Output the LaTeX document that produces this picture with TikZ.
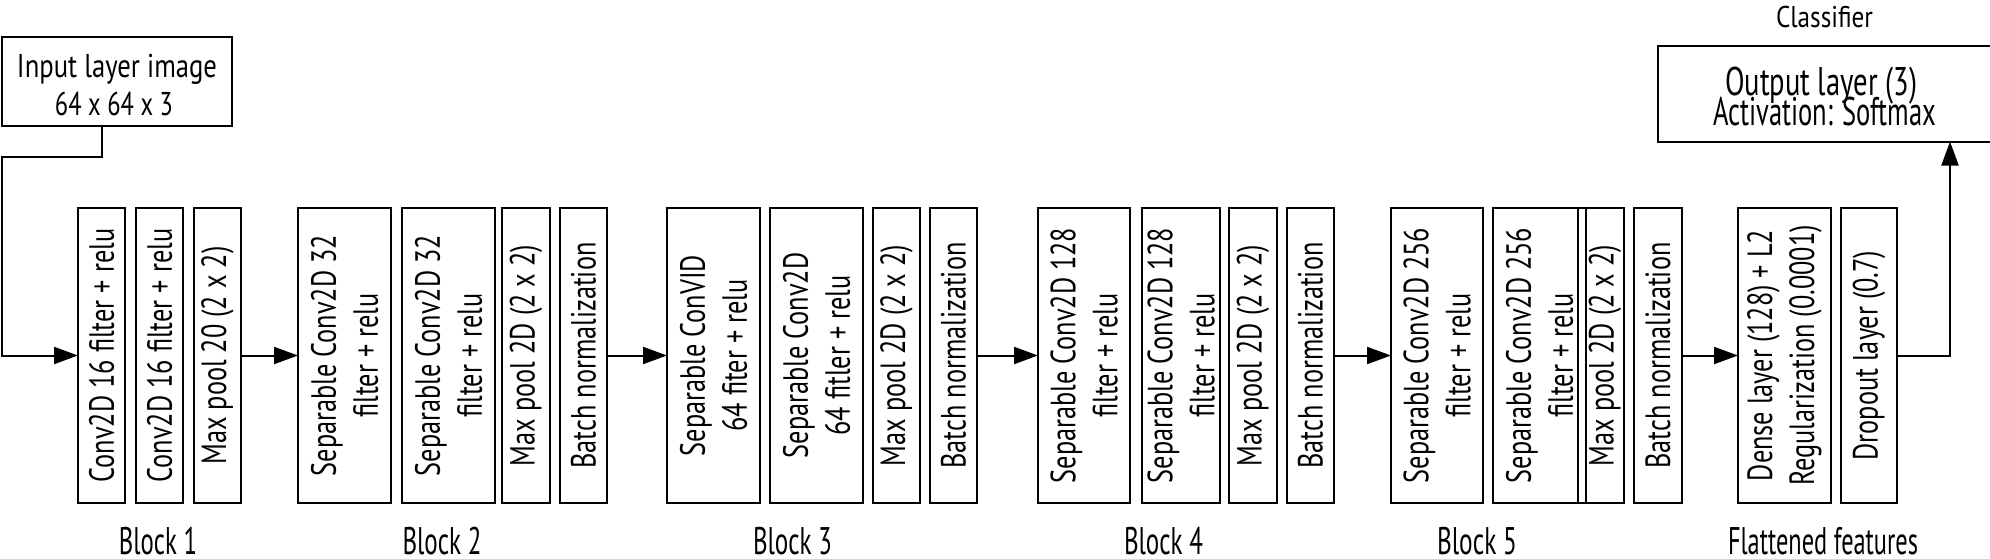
\documentclass[tikz,border=0pt]{standalone}
\usepackage{fontspec}
\usepackage{graphicx}
\newfontfamily\myf{PT Sans}
\usetikzlibrary{arrows.meta}
\newlength\lwa \newlength\lwb \newlength\lwc \newlength\lwe
\newcommand\rotfont{\myf\fontsize{35}{42}\selectfont}
\newcommand\sx[1]{\scalebox{\rf}[1]{#1}}
\newcommand\fw[2]{\resizebox{#1}{\height}{#2}}
\newcommand\rone[1]{\rotatebox{90}{\sx{#1}}}
\newcommand\rtwo[2]{\rotatebox{90}{\vbox{\lineskiplimit=-100pt\relax\halign{\hfil##\hfil\cr\sx{#1}\cr\sx{#2}\cr}}}}
\begin{document}
\lineskiplimit=-100pt\relax
\settowidth\lwa{\rotfont Conv2D 16 filter + relu}
\settowidth\lwb{\rotfont Batch normalization}
\settowidth\lwc{\rotfont Max pool 2D (2 x 2)}
\settowidth\lwe{\rotfont Separable Conv2D 32}
\pgfmathsetmacro\rf{(256+229+217+240)/(\lwa+\lwb+\lwc+\lwe)}
\begin{tikzpicture}[x=1pt,y=-1pt,
  lay/.style={draw, line width=2pt, inner sep=0pt, outer sep=0pt, minimum height=295pt,
    font=\rotfont},
  hbox/.style={draw, line width=2pt, inner sep=0pt, outer sep=0pt},
  conn/.style={line width=2pt, -{Triangle[length=24pt,width=17pt]}},
  tline/.style={anchor=base, inner sep=0pt, outer sep=0pt},
  lbl/.style={font=\myf\fontsize{38.5}{40}\selectfont, anchor=base, inner sep=0pt}]
\useasboundingbox (0,0) rectangle (1990,558);
% input and output boxes
\node[hbox, minimum width=230pt, minimum height=89pt] (in) at (117,81.5) {};
\node[tline, font=\myf\fontsize{33}{38}\selectfont] (in1) at (117,77) {\fw{200pt}{Input layer image}};
\node[tline, font=\myf\fontsize{33}{38}\selectfont] (in2) at (114,115) {\fw{118pt}{64 x 64 x 3}};
\node[hbox, minimum width=337pt, minimum height=96pt] (out) at (1826.5,93.5) {};
\node[tline, font=\myf\fontsize{40}{40}\selectfont] (out1) at (1821,95) {\fw{192pt}{Output layer (3)}};
\node[tline, font=\myf\fontsize{40}{40}\selectfont] (out2) at (1824.5,125) {\fw{223pt}{Activation: Softmax}};
\node[tline, font=\myf\fontsize{30}{34}\selectfont] (cls) at (1824.5,27) {\fw{97pt}{Classifier}};
% block 1
\node[lay, minimum width=47pt] (b11) at (101.5,355.5) {\rone{Conv2D 16 filter + relu}};
\node[lay, minimum width=47pt] (b12) at (159.5,355.5) {\rone{Conv2D 16 filter + relu}};
\node[lay, minimum width=47pt] (b13) at (217.5,355.5) {\rone{Max pool 20 (2 x 2)}};
% block 2
\node[lay, minimum width=93pt] (b21) at (344.5,355.5) {\rtwo{Separable Conv2D 32}{filter + relu}};
\node[lay, minimum width=93pt] (b22) at (448.5,355.5) {\rtwo{Separable Conv2D 32}{filter + relu}};
\node[lay, minimum width=48pt] (b23) at (526,355.5) {\rone{Max pool 2D (2 x 2)}};
\node[lay, minimum width=47pt] (b24) at (583.5,355.5) {\rone{Batch normalization}};
% block 3
\node[lay, minimum width=93pt] (b31) at (713.5,355.5) {\rtwo{Separable ConVID}{64 fiter + relu}};
\node[lay, minimum width=93pt] (b32) at (816.5,355.5) {\rtwo{Separable Conv2D}{64 fitler + relu}};
\node[lay, minimum width=47pt] (b33) at (896.5,355.5) {\rone{Max pool 2D (2 x 2)}};
\node[lay, minimum width=47pt] (b34) at (953.5,355.5) {\rone{Batch normalization}};
% block 4
\node[lay, minimum width=92pt] (b41) at (1084,355.5) {\rtwo{Separable Conv2D 128}{filter + relu}};
\node[lay, minimum width=78pt] (b42) at (1181,355.5) {\rtwo{Separable Conv2D 128}{filter + relu}};
\node[lay, minimum width=48pt] (b43) at (1253,355.5) {\rone{Max pool 2D (2 x 2)}};
\node[lay, minimum width=47pt] (b44) at (1310.5,355.5) {\rone{Batch normalization}};
% block 5
\node[lay, minimum width=92pt] (b51) at (1437,355.5) {\rtwo{Separable Conv2D 256}{filter + relu}};
\node[lay, minimum width=93pt] (b52) at (1539.5,355.5) {\rtwo{Separable Conv2D 256}{filter + relu}};
\node[lay, minimum width=38pt] (b53) at (1605,355.5) {\rone{Max pool 2D (2 x 2)}};
\draw[line width=2pt] (1578,208) -- (1578,503);
\node[lay, minimum width=48pt] (b54) at (1658,355.5) {\rone{Batch normalization}};
% flattened
\node[lay, minimum width=93pt] (d1) at (1784.5,355.5) {\rtwo{Dense layer (128) + L2}{Regularization (0.0001)}};
\node[lay, minimum width=56pt] (d2) at (1869,355.5) {\rone{Dropout layer (0.7)}};
% labels
\node[lbl] (l1) at (158,554) {\fw{78pt}{Block 1}};
\node[lbl] (l2) at (442,554) {\fw{79pt}{Block 2}};
\node[lbl] (l3) at (792.5,554) {\fw{79pt}{Block 3}};
\node[lbl] (l4) at (1163.5,554) {\fw{79pt}{Block 4}};
\node[lbl] (l5) at (1477,554) {\fw{80pt}{Block 5}};
\node[lbl] (l6) at (1823,554) {\fw{190pt}{Flattened features}};
% connectors
\coordinate (k1) at (2,157);
\coordinate (k2) at (1950,355.5);
\draw[conn] ([xshift=-15pt]in.south) |- (k1) |- (b11.west);
\draw[conn] (b13.east) -- (b21.west);
\draw[conn] (b24.east) -- (b31.west);
\draw[conn] (b34.east) -- (b41.west);
\draw[conn] (b44.east) -- (b51.west);
\draw[conn] (b54.east) -- (d1.west);
\draw[conn] (d2.east) -- (k2) -- (k2 |- out.south);
\end{tikzpicture}
\end{document}
